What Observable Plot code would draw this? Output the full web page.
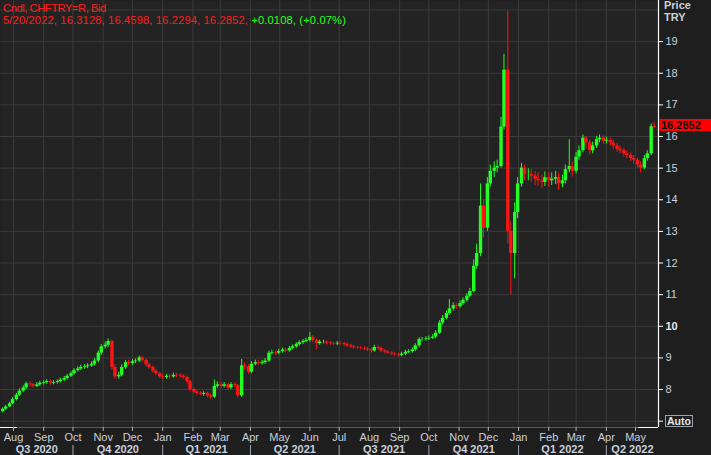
<!DOCTYPE html>
<html><head><meta charset="utf-8">
<script src="https://cdn.jsdelivr.net/npm/d3@7"></script>
<script src="https://cdn.jsdelivr.net/npm/@observablehq/plot@0.6"></script>
<style>
html,body{margin:0;padding:0;background:#1e1e1e;}
#wrap{position:relative;width:711px;height:455px;overflow:hidden;font-family:"Liberation Sans",Arial,sans-serif;}
#wrap svg{display:block;}
.hdr{position:absolute;left:3px;top:2px;font-size:11.2px;line-height:12px;white-space:nowrap;}
.l1{letter-spacing:-0.45px;}
.l2{letter-spacing:0.12px;}
.red{color:#ff1c1c;} .grn{color:#22ff22;}
.unit{position:absolute;left:664px;top:0px;font-size:11px;line-height:11.5px;font-weight:bold;color:#c9d0dc;}
.pbox{position:absolute;left:659px;width:52px;height:12px;background:#ff0000;color:#111;font-weight:bold;font-size:11px;line-height:12px;padding-left:2px;box-sizing:border-box;}
.auto{position:absolute;left:665px;top:415px;width:28px;height:12px;border:1px solid #9aa3b0;box-sizing:border-box;color:#e2e6f0;font-weight:bold;font-size:10.5px;line-height:10px;text-align:center;}
</style></head><body>
<div id="wrap"></div>
<script>
// ---- data ----
const firstMonday = "2020-07-20";      // week of the first candle
const candleWeekdays = [1, 4];          // Tuesday and Friday candle of each week
const firstOpen = 7.30;
const closes = [
  7.38, 7.45,  7.55, 7.68,  7.82, 7.95,  8.05, 8.18,  8.15, 8.10,
  8.15, 8.20,  8.22, 8.25,  8.20, 8.22,  8.25, 8.30,  8.35, 8.42,
  8.50, 8.60,  8.65, 8.70,  8.72, 8.75,  8.80, 8.90,  9.15, 9.35,
  9.40, 9.52,  8.70, 8.40,  8.45, 8.70,  8.85, 8.82,  8.88, 8.90,
  9.00, 8.92,  8.78, 8.70,  8.58, 8.50,  8.40, 8.38,  8.42, 8.40,
  8.45, 8.44,  8.42, 8.38,  8.25, 8.00,  7.92, 7.88,  7.85, 7.88,
  7.80, 7.76,  8.10, 8.15,  8.10, 8.15,  8.05, 8.15,  8.12, 7.80,
  8.75, 8.72,  8.55, 8.80,  8.85, 8.82,  8.85, 8.90,  9.15, 9.17,
  9.15, 9.20,  9.25, 9.22,  9.30, 9.35,  9.42, 9.48,  9.52, 9.55,
  9.65, 9.55,  9.45, 9.50,  9.50, 9.47,  9.45, 9.44,  9.46, 9.45,
  9.42, 9.38,  9.35, 9.32,  9.31, 9.30,  9.28, 9.25,  9.22, 9.33,
  9.30, 9.22,  9.18, 9.15,  9.12, 9.10,  9.08, 9.12,  9.18, 9.20,
  9.25, 9.38,  9.58, 9.58,  9.60, 9.62,  9.66, 9.78,  10.10, 10.25,
  10.40, 10.55,  10.65, 10.62,  10.72, 10.82,  10.95, 11.10,  11.90, 12.30,
  13.80, 13.10,  14.50, 14.90,  15.00, 15.05,  16.30, 18.10,  13.00, 12.30,
  13.60, 14.50,  15.00, 14.80,  14.80, 14.75,  14.65, 14.60,  14.55, 14.70,
  14.60, 14.65,  14.70, 14.50,  14.60, 14.95,  15.05, 14.90,  15.35, 15.55,
  15.95, 15.80,  15.55, 15.70,  15.90, 15.95,  15.85, 15.88,  15.80, 15.70,
  15.60, 15.55,  15.45, 15.40,  15.30, 15.25,  15.10, 15.00,  15.30, 15.45,
  16.3128, 16.2852
];
const highs = [
  7.42, 7.50,  7.60, 7.74,  7.88, 8.02,  8.12, 8.24,  8.24, 8.20,
  8.22, 8.26,  8.28, 8.31,  8.30, 8.28,  8.30, 8.36,  8.41, 8.48,
  8.56, 8.66,  8.72, 8.77,  8.79, 8.82,  8.87, 8.98,  9.22, 9.42,
  9.50, 9.60,  9.56, 8.78,  8.55, 8.78,  8.92, 8.93,  8.95, 8.97,
  9.06, 9.05,  8.96, 8.83,  8.74, 8.63,  8.55, 8.46,  8.48, 8.48,
  8.52, 8.51,  8.50, 8.47,  8.42, 8.30,  8.05, 7.98,  7.94, 7.93,
  7.92, 7.85,  8.30, 8.24,  8.22, 8.22,  8.20, 8.22,  8.22, 8.16,
  8.95, 8.85,  8.78, 8.88,  8.93, 8.92,  8.92, 8.98,  9.22, 9.24,
  9.23, 9.27,  9.31, 9.30,  9.36, 9.41,  9.48, 9.54,  9.58, 9.62,
  9.80, 9.70,  9.60, 9.56,  9.56, 9.54,  9.52, 9.50,  9.52, 9.51,
  9.50, 9.47,  9.43, 9.40,  9.37, 9.36,  9.35, 9.33,  9.30, 9.40,
  9.38, 9.34,  9.27, 9.23,  9.20, 9.17,  9.15, 9.18,  9.24, 9.26,
  9.31, 9.45,  9.64, 9.65,  9.67, 9.69,  9.74, 9.86,  10.18, 10.34,
  10.48, 10.85,  10.74, 10.73,  10.80, 10.90,  11.03, 11.20,  12.10, 12.60,
  14.50, 14.00,  14.70, 15.10,  15.20, 15.25,  16.60, 18.60,  19.95, 13.30,
  13.90, 14.70,  15.15, 15.10,  14.98, 14.95,  14.90, 14.85,  14.78, 14.88,
  14.85, 14.85,  14.90, 14.85,  14.78, 15.10,  15.90, 15.20,  15.50, 15.70,
  16.05, 16.00,  15.88, 15.82,  16.00, 16.05,  16.02, 15.98,  15.95, 15.88,
  15.78, 15.70,  15.62, 15.55,  15.48, 15.40,  15.32, 15.20,  15.40, 15.55,
  16.40, 16.4598
];
const lows = [
  7.26, 7.34,  7.42, 7.52,  7.64, 7.78,  7.90, 8.00,  8.08, 8.04,
  8.06, 8.10,  8.14, 8.17,  8.14, 8.15,  8.17, 8.20,  8.25, 8.30,
  8.38, 8.45,  8.55, 8.60,  8.64, 8.66,  8.70, 8.74,  8.85, 9.08,
  9.28, 9.32,  8.62, 8.32,  8.33, 8.40,  8.64, 8.76,  8.77, 8.82,
  8.85, 8.86,  8.72, 8.64,  8.52, 8.44,  8.34, 8.32,  8.33, 8.34,
  8.36, 8.38,  8.36, 8.32,  8.18, 7.93,  7.86, 7.82,  7.80, 7.79,
  7.74, 7.70,  7.72, 8.04,  8.03, 8.05,  7.99, 8.00,  8.06, 7.74,
  7.75, 8.62,  8.48, 8.50,  8.75, 8.76,  8.77, 8.80,  8.86, 9.09,
  9.08, 9.10,  9.15, 9.16,  9.18, 9.25,  9.30, 9.37,  9.43, 9.47,
  9.50, 9.48,  9.25, 9.40,  9.44, 9.41,  9.40, 9.39,  9.39, 9.40,
  9.37, 9.33,  9.30, 9.27,  9.26, 9.25,  9.23, 9.20,  9.15, 9.18,
  9.24, 9.16,  9.12, 9.10,  9.07, 9.05,  9.03, 9.04,  9.08, 9.13,
  9.15, 9.20,  9.33, 9.52,  9.53, 9.55,  9.58, 9.61,  9.74, 10.04,
  10.20, 10.35,  10.48, 10.54,  10.57, 10.66,  10.76, 10.90,  11.05, 11.80,
  12.20, 12.80,  13.00, 14.40,  14.70, 14.85,  15.00, 16.20,  12.60, 11.00,
  11.50, 13.40,  14.40, 14.60,  14.60, 14.55,  14.45, 14.42,  14.35, 14.42,
  14.40, 14.45,  14.48, 14.30,  14.38, 14.50,  14.85, 14.72,  14.82, 15.25,
  15.48, 15.60,  15.42, 15.45,  15.62, 15.80,  15.74, 15.76,  15.70, 15.60,
  15.50, 15.45,  15.35, 15.30,  15.20, 15.12,  15.00, 14.85,  14.95, 15.22,
  15.40, 16.2294
];
const gridPrices = [7, 8, 9, 10, 11, 12, 13, 14, 15, 16, 17, 18, 19, 20];
const tickPrices = [7, 8, 9, 10, 11, 12, 13, 14, 15, 16, 17, 18, 19];
const priceLabels = [8, 9, 11, 12, 13, 14, 15, 16, 17, 18, 19];
const boldPriceLabels = [10];
const monthNames = ["Jan","Feb","Mar","Apr","May","Jun","Jul","Aug","Sep","Oct","Nov","Dec"];
const monthStartStrings = ["2020-08-01","2020-09-01","2020-10-01","2020-11-01","2020-12-01","2021-01-01",
  "2021-02-01","2021-03-01","2021-04-01","2021-05-01","2021-06-01","2021-07-01","2021-08-01","2021-09-01",
  "2021-10-01","2021-11-01","2021-12-01","2022-01-01","2022-02-01","2022-03-01","2022-04-01","2022-05-01"];
const quarterNames = ["Q3 2020","Q4 2020","Q1 2021","Q2 2021","Q3 2021","Q4 2021","Q1 2022","Q2 2022"];
const quarterStarts = ["2020-07-01","2020-10-01","2021-01-01","2021-04-01","2021-07-01","2021-10-01","2022-01-01","2022-04-01","2022-07-01"];
const header1 = "Cndl, CHFTRY=R, Bid";
const header2 = "5/20/2022, 16.3128, 16.4598, 16.2294, 16.2852, ";
const header3 = "+0.0108, (+0.07%)";
const lastLabel = "16.2852";

// ---- build table ----
const DAY = 864e5;
const t0 = new Date(firstMonday + "T00:00:00Z").getTime();
const candles = [];
let prev = firstOpen;
closes.forEach((c, i) => {
  const k = Math.floor(i / 2), wd = candleWeekdays[i % 2];
  const date = new Date(t0 + (7 * k + wd) * DAY);
  candles.push({date, open: prev, close: c,
    high: Math.max(highs[i], prev, c), low: Math.min(lows[i], prev, c),
    col: c >= prev ? "#22ff22" : "#ff1414"});
  prev = c;
});

const xDomain = [new Date("2020-07-18T16:00:00Z"), new Date("2022-05-24T12:00:00Z")];
const yDomain = [6.8, 20.3];
const months = monthStartStrings.map(s => new Date(s + "T00:00:00Z"));
const qs = quarterStarts.map(s => new Date(s + "T00:00:00Z"));
const quarters = quarterNames.map((name, i) => {
  const a = Math.max(qs[i].getTime(), xDomain[0].getTime());
  const b = Math.min(qs[i + 1].getTime(), xDomain[1].getTime());
  return {name, center: new Date((a + b) / 2)};
});
const qSeparators = qs.filter(d => d > xDomain[0] && d < xDomain[1]);

const labelColor = "#c9d0dc";
const chart = Plot.plot({
  width: 711, height: 455,
  marginLeft: 0, marginRight: 53, marginTop: 0, marginBottom: 28,
  style: {background: "#1e1e1e", fontFamily: "'Liberation Sans', Arial, sans-serif", fontSize: "11px", overflow: "visible"},
  x: {type: "utc", domain: xDomain, axis: null},
  y: {domain: yDomain, axis: null},
  color: {type: "identity"},
  marks: [
    Plot.frame({fill: "#232323", stroke: null}),
    Plot.ruleY(gridPrices, {stroke: "#3b3b3b", strokeWidth: 1}),
    Plot.ruleX(months, {stroke: "#3b3b3b", strokeWidth: 1}),
    Plot.ruleX(candles, {x: "date", y1: "low", y2: "high", stroke: "col", strokeWidth: 1}),
    Plot.ruleX(candles, {x: "date", y1: "open", y2: "close", stroke: "col", strokeWidth: 3.4}),
    Plot.ruleY([yDomain[0]], {stroke: "#5a5a5a"}),
    Plot.ruleY([yDomain[0]], {stroke: "#ffffff", insetRight: 641}),
    Plot.ruleY([yDomain[0]], {stroke: "#ffffff", insetLeft: 638}),
    Plot.ruleX([xDomain[1]], {stroke: "#ffffff", strokeWidth: 1.2}),
    Plot.ruleY(tickPrices, {stroke: "#ffffff", insetLeft: 658, insetRight: -5}),
    Plot.text(priceLabels, {x: () => xDomain[1], y: d => d, dx: 7, textAnchor: "start", fill: labelColor, fontSize: 11}),
    Plot.text(boldPriceLabels, {x: () => xDomain[1], y: d => d, dx: 7, textAnchor: "start", fill: "#e4e8f0", fontSize: 11, fontWeight: "bold"}),
    Plot.axisX(months, {anchor: "bottom", tickSize: 4, tickPadding: 2, stroke: "#aab0ba",
      tickFormat: d => monthNames[d.getUTCMonth()], fill: labelColor, fontSize: 11, label: null}),
    Plot.ruleX(qSeparators, {insetTop: 445, insetBottom: -28, stroke: "#a0a6b0"}),
    Plot.text(quarters, {x: "center", y: () => yDomain[0], dy: 22, text: "name", fill: labelColor,
      fontWeight: "bold", fontSize: 11})
  ]
});
const wrap = document.getElementById("wrap");
wrap.appendChild(chart);

const hdr = document.createElement("div");
hdr.className = "hdr";
hdr.innerHTML = `<div class="red l1">${header1}</div><div class="l2"><span class="red">${header2}</span><span class="grn">${header3}</span></div>`;
wrap.appendChild(hdr);

const unit = document.createElement("div");
unit.className = "unit";
unit.innerHTML = "Price<br>TRY";
wrap.appendChild(unit);

const yLast = chart.scale("y").apply(closes[closes.length - 1]);
const pbox = document.createElement("div");
pbox.className = "pbox";
pbox.style.top = (yLast - 7.5) + "px";
pbox.textContent = lastLabel;
wrap.appendChild(pbox);

const auto = document.createElement("div");
auto.className = "auto";
auto.textContent = "Auto";
wrap.appendChild(auto);
</script>
</body></html>
